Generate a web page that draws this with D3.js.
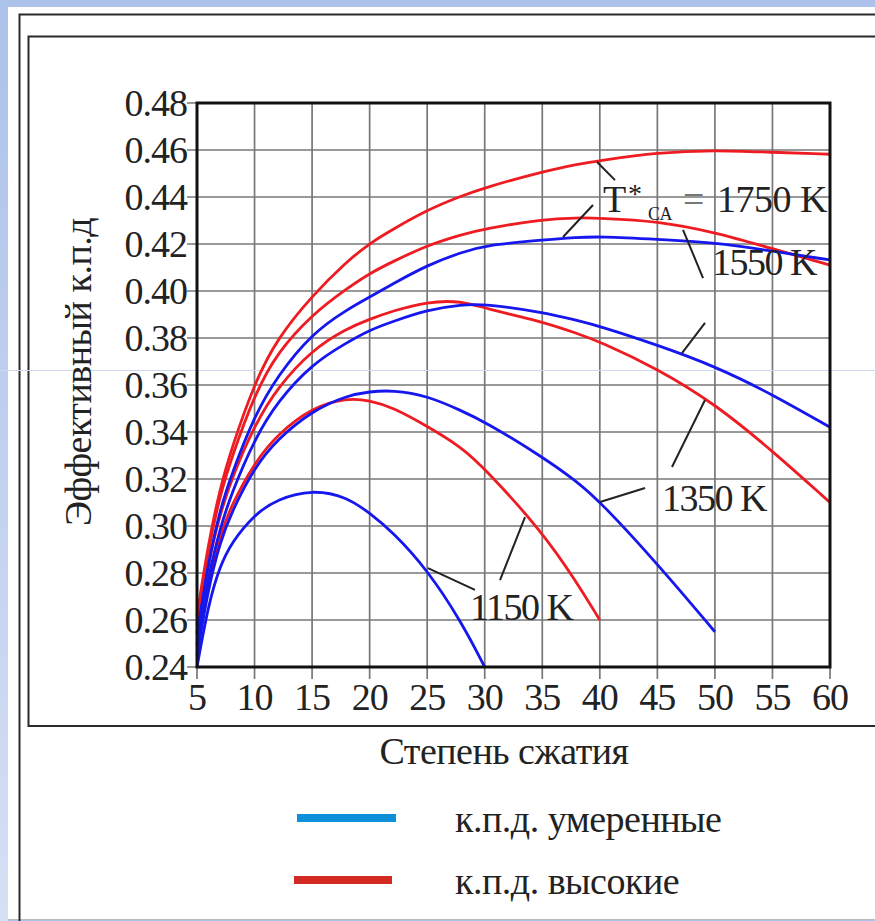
<!DOCTYPE html>
<html>
<head>
<meta charset="utf-8">
<script src="https://cdn.jsdelivr.net/npm/d3@7"></script>
<style>
  body { margin: 0; background: #fff; }
  text { font-family: "Liberation Serif", "Times New Roman", serif; fill: #222; }
</style>
</head>
<body>
<div id="chart"></div>
<script>
// compression ratio (x) and efficiency values
var ratio = [5, 6, 7, 8, 10, 12, 15, 18, 20, 22, 25, 28, 30, 35, 38, 40, 45, 50, 55, 60];

var blue1150 = [.240, .267, .283, .293, .305, .3115, .3155, .3125, .3055, .2975, .2815, .2590, .2400, null, null, null, null, null, null, null];
var red1150  = [.249, .277, .296, .309, .327, .339, .3505, .3545, .3535, .3505, .3425, .3335, .3245, .2976, .2760, .2600, null, null, null, null];
var blue1350 = [.245, .274, .293, .306, .325, .337, .349, .3555, .3572, .3578, .3555, .349, .3444, .3295, .3190, .3105, .2840, .2550, null, null];
var red1350  = [.255, .285, .305, .320, .343, .359, .375, .384, .388, .3915, .3955, .3958, .3926, .387, .382, .3785, .367, .352, .332, .310];
var blue1550 = [.250, .279, .299, .314, .337, .353, .369, .378, .3834, .387, .392, .3942, .3945, .391, .3875, .385, .377, .368, .356, .342];
var red1550  = [.258, .291, .313, .329, .356, .374, .390, .401, .4075, .4125, .4194, .424, .4265, .4305, .4312, .4310, .4298, .425, .418, .411];
var blue1750 = [.254, .285, .307, .322, .347, .364, .382, .392, .3974, .403, .411, .4165, .4194, .4217, .4228, .4232, .4220, .4206, .417, .4132];
var red1750  = [.262, .293, .316, .333, .361, .380, .398, .4125, .4203, .4262, .4345, .4405, .4440, .4508, .4540, .4555, .4590, .4600, .4590, .4582];

var xTicks = [5, 10, 15, 20, 25, 30, 35, 40, 45, 50, 55, 60];
var yTicks = [0.24, 0.26, 0.28, 0.30, 0.32, 0.34, 0.36, 0.38, 0.40, 0.42, 0.44, 0.46, 0.48];

var legendLabels = ["к.п.д. умеренные", "к.п.д. высокие"];

var BLUE = "#1616ee", RED = "#ee1c22";

var series = [
  {vals: blue1150, color: BLUE}, {vals: red1150, color: RED},
  {vals: blue1350, color: BLUE}, {vals: red1350, color: RED},
  {vals: blue1550, color: BLUE}, {vals: red1550, color: RED},
  {vals: blue1750, color: BLUE}, {vals: red1750, color: RED}
];

// leader lines for the temperature labels, in data units
var leaders = [
  [39.76, .4549, 41.32, .4472], [39.41, .4366, 36.80, .4230],
  [47.23, .4260, 48.97, .4055], [49.14, .3864, 47.14, .3736],
  [49.14, .3536, 46.27, .3251], [43.93, .3162, 40.02, .3102],
  [29.15, .2728, 25.07, .2821], [31.33, .2770, 33.50, .3038]
];
var labels = [
  {t: "1550 K", x: 49.75, y: .4068},
  {t: "1350 K", x: 45.40, y: .3062},
  {t: "1150 K", x: 28.72, y: .2598}
];

var W = 875, H = 921;
var svg = d3.select("#chart").append("svg")
  .attr("width", W).attr("height", H);

// page background
var defs = svg.append("defs");
var grad = defs.append("linearGradient").attr("id", "side")
  .attr("x1", 0).attr("y1", 0).attr("x2", 0).attr("y2", 1);
grad.append("stop").attr("offset", "0").attr("stop-color", "#adc2ea");
grad.append("stop").attr("offset", "1").attr("stop-color", "#d6e0f4");
svg.append("rect").attr("width", W).attr("height", H).attr("fill", "#adc2ea");
svg.append("rect").attr("x", 0).attr("y", 7).attr("width", 8).attr("height", H).attr("fill", "url(#side)");
svg.append("rect").attr("x", 8).attr("y", 7).attr("width", W).attr("height", 912).attr("fill", "#fff");
svg.append("line").attr("x1", 8).attr("x2", W).attr("y1", 919.5).attr("y2", 919.5).attr("stroke", "#bbb");

// frames
var frame = svg.append("g").attr("stroke", "#2a2a2a").attr("fill", "none");
frame.append("path").attr("d", "M19.5," + H + "V14.5H" + W).attr("stroke-width", 2);
frame.append("path").attr("d", "M" + W + ",36.5H28.5V726H" + W).attr("stroke-width", 2);

var x = d3.scaleLinear().domain([5, 60]).range([197, 830]);
var y = d3.scaleLinear().domain([0.24, 0.48]).range([667, 103]);

// grid
var grid = svg.append("g").attr("stroke", "#777").attr("stroke-width", 1.7);
grid.selectAll(".gx").data(xTicks).enter().append("line")
  .attr("x1", function(d){ return x(d); }).attr("x2", function(d){ return x(d); })
  .attr("y1", y(0.48)).attr("y2", y(0.24) + 12);
grid.selectAll(".gy").data(yTicks).enter().append("line")
  .attr("x1", x(5) - 10).attr("x2", x(60))
  .attr("y1", function(d){ return y(d); }).attr("y2", function(d){ return y(d); });

// faint scan line across the picture
svg.append("line").attr("x1", 0).attr("x2", W).attr("y1", 370.5).attr("y2", 370.5)
  .attr("stroke", "#cdd8f0").attr("stroke-width", 1);

// curves
var line = d3.line()
  .defined(function(d){ return d[1] != null; })
  .x(function(d){ return x(d[0]); })
  .y(function(d){ return y(d[1]); })
  .curve(d3.curveBasis);

svg.append("g").selectAll("path").data(series).enter().append("path")
  .attr("d", function(s){ return line(ratio.map(function(r, i){ return [r, s.vals[i]]; })); })
  .attr("fill", "none")
  .attr("stroke", function(s){ return s.color; })
  .attr("stroke-width", 2.8);

// plot border
svg.append("rect")
  .attr("x", x(5)).attr("y", y(0.48))
  .attr("width", x(60) - x(5)).attr("height", y(0.24) - y(0.48))
  .attr("fill", "none").attr("stroke", "#111").attr("stroke-width", 3);

// tick labels
svg.append("g").selectAll("text").data(yTicks).enter().append("text")
  .attr("x", x(5) - 10).attr("y", function(d){ return y(d); })
  .attr("dy", "0.35em").attr("text-anchor", "end")
  .style("font-size", "38px").style("letter-spacing", "-1px")
  .text(function(d){ return d3.format(".2f")(d); });
svg.append("g").selectAll("text").data(xTicks).enter().append("text")
  .attr("x", function(d){ return x(d); }).attr("y", 710)
  .attr("text-anchor", "middle")
  .style("font-size", "38px").style("letter-spacing", "-1px")
  .text(function(d){ return d; });

// axis titles
svg.append("text").attr("transform", "translate(91,372) rotate(-90)")
  .attr("text-anchor", "middle").style("font-size", "38px").style("letter-spacing", "-0.5px")
  .text("Эффективный к.п.д");
svg.append("text").attr("x", 504).attr("y", 764)
  .attr("text-anchor", "middle").style("font-size", "38px").style("letter-spacing", "-0.5px")
  .text("Степень сжатия");

// annotations
svg.append("g").attr("stroke", "#222").attr("stroke-width", 2)
  .selectAll("line").data(leaders).enter().append("line")
  .attr("x1", function(d){ return x(d[0]); }).attr("y1", function(d){ return y(d[1]); })
  .attr("x2", function(d){ return x(d[2]); }).attr("y2", function(d){ return y(d[3]); });

svg.append("g").selectAll("text").data(labels).enter().append("text")
  .attr("x", function(d){ return x(d.x); }).attr("y", function(d){ return y(d.y); })
  .style("font-size", "38px").style("letter-spacing", "-1.5px")
  .text(function(d){ return d.t; });

var tx = x(40.28), ty = y(0.4336);
var tl = svg.append("text").attr("x", tx).attr("y", ty)
  .style("font-size", "38px").style("letter-spacing", "-0.5px");
tl.append("tspan").text("T");
tl.append("tspan").attr("x", tx + 25).attr("dy", -9).style("font-size", "28px").text("*");
tl.append("tspan").attr("x", tx + 45).attr("dy", 17).style("font-size", "18px").text("CA");
tl.append("tspan").attr("x", tx + 80).attr("dy", -8).style("fill", "#777").text("=");
tl.append("tspan").attr("x", tx + 114).text("1750 K");

// legend
var legendColors = ["#0e8fda", "#d42a24"];
var leg = svg.append("g").selectAll("g").data(legendLabels).enter().append("g")
  .attr("transform", function(d, i){ return "translate(0," + (818 + i * 62) + ")"; });
leg.append("line").attr("x1", function(d, i){ return i ? 294 : 297; })
  .attr("x2", function(d, i){ return i ? 392 : 396; })
  .attr("stroke", function(d, i){ return legendColors[i]; })
  .attr("stroke-width", 8);
leg.append("text").attr("x", 455).attr("y", 14)
  .style("font-size", "38px").style("letter-spacing", "-0.5px").text(function(d){ return d; });
</script>
</body>
</html>
